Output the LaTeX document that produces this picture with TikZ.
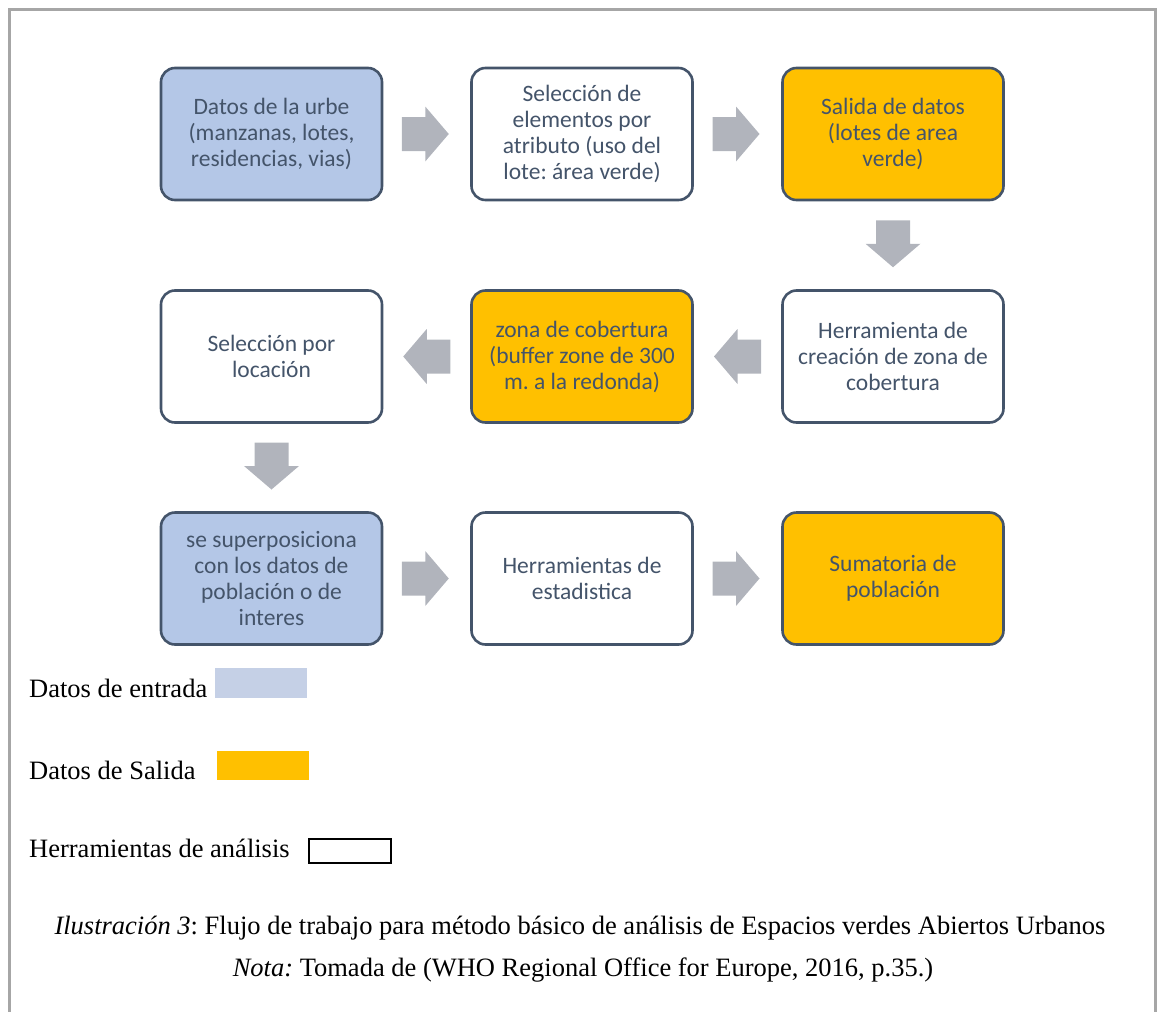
\documentclass[tikz,border=0pt]{standalone}
\usepackage{fontspec}
\setmainfont{Liberation Serif}
\newfontfamily\boxfont{Carlito}
\usetikzlibrary{calc}
\frenchspacing
\definecolor{boxline}{RGB}{68,84,106}
\definecolor{inblue}{RGB}{180,199,231}
\definecolor{outorange}{RGB}{255,192,0}
\definecolor{arrowgray}{RGB}{177,180,188}
\definecolor{legblue}{RGB}{197,208,230}
\definecolor{framegray}{RGB}{166,166,166}
\tikzset{
  flowbox/.style={draw=boxline, line width=2.6pt, rounded corners=14pt,
    minimum width=221pt, minimum height=132pt, align=center, inner sep=2pt,
    text=boxline, font=\boxfont\fontsize{23.5}{26}\selectfont},
  inbox/.style={flowbox, fill=inblue},
  outbox/.style={flowbox, fill=outorange},
  toolbox/.style={flowbox, fill=white},
  blockarrow/.pic={\fill[arrowgray] (-23.5,-17) -- (0,-17) -- (0,-27.5) -- (23.5,0) -- (0,27.5) -- (0,17) -- (-23.5,17) -- cycle;},
  legtext/.style={anchor=base west, inner sep=0pt, font=\fontsize{26.5}{30}\selectfont},
  captext/.style={anchor=base, inner sep=0pt, font=\fontsize{26.5}{30}\selectfont}
}
\begin{document}
\begin{tikzpicture}[x=1pt,y=-1pt]
\useasboundingbox (0,0) rectangle (1157,1012);
% frame
\draw[framegray, line width=2.5pt] (9.5,1012) -- (9.5,9.5) -- (1155.5,9.5) -- (1155.5,1012);

% row 1
\node[inbox] (b1) at (271.5,134) {Datos de la urbe\\(manzanas, lotes,\\residencias, vias)};
\node[toolbox] (b2) at (582,134) {Selección de\\elementos por\\atributo (uso del\\lote: área verde)};
\node[outbox] (b3) at (893,134) {Salida de datos\\(lotes de area\\verde)};
% row 2
\node[toolbox] (b4) at (271.5,356.5) {Selección por\\locación};
\node[outbox] (b5) at (582,356.5) {zona de cobertura\\(buffer zone de 300\\m. a la redonda)};
\node[toolbox] (b6) at (893,356.5) {Herramienta de\\creación de zona de\\cobertura};
% row 3
\node[inbox] (b7) at (271.5,578.5) {se superposiciona\\con los datos de\\población o de\\interes};
\node[toolbox] (b8) at (582,578.5) {Herramientas de\\estadistica};
\node[outbox] (b9) at (893,578.5) {Sumatoria de\\población};

% block arrows
\pic (a12) at ($(b1.east)!0.5!(b2.west)+(-1.5,0)$) {blockarrow};
\pic (a23) at ($(b2.east)!0.5!(b3.west)+(-1.5,0)$) {blockarrow};
\pic[rotate=-90] (a36) at ($(b3.south)!0.5!(b6.north)+(0,-1.5)$) {blockarrow};
\pic[rotate=180] (a65) at ($(b6.west)!0.5!(b5.east)$) {blockarrow};
\pic[rotate=180] (a54) at ($(b5.west)!0.5!(b4.east)$) {blockarrow};
\pic[rotate=-90] (a47) at ($(b4.south)!0.5!(b7.north)+(0,-1.5)$) {blockarrow};
\pic (a78) at ($(b7.east)!0.5!(b8.west)+(-1.5,0)$) {blockarrow};
\pic (a89) at ($(b8.east)!0.5!(b9.west)+(-1.5,0)$) {blockarrow};

% legend
\node[legtext] (l1) at (29,697) {Datos de entrada};
\node[fill=legblue, inner sep=0pt, minimum width=92pt, minimum height=30pt, anchor=north west] (r1) at (215,668) {};
\node[legtext] (l2) at (29,779) {Datos de Salida};
\node[fill=outorange, inner sep=0pt, minimum width=92pt, minimum height=29pt, anchor=north west] (r2) at (217,751) {};
\node[legtext] (l3) at (29,857) {Herramientas de análisis};
\node[draw=black, line width=2pt, inner sep=0pt, minimum width=82pt, minimum height=24pt, anchor=north west] (r3) at (308,838) {};

% caption
\node[captext] (c1) at (580,934) {\textit{Ilustración 3}: Flujo de trabajo para método básico de análisis de Espacios verdes Abiertos Urbanos};
\node[captext] (c2) at (583,976) {\textit{Nota:} Tomada de (WHO Regional Office for Europe, 2016, p.35.)};
\end{tikzpicture}
\end{document}
